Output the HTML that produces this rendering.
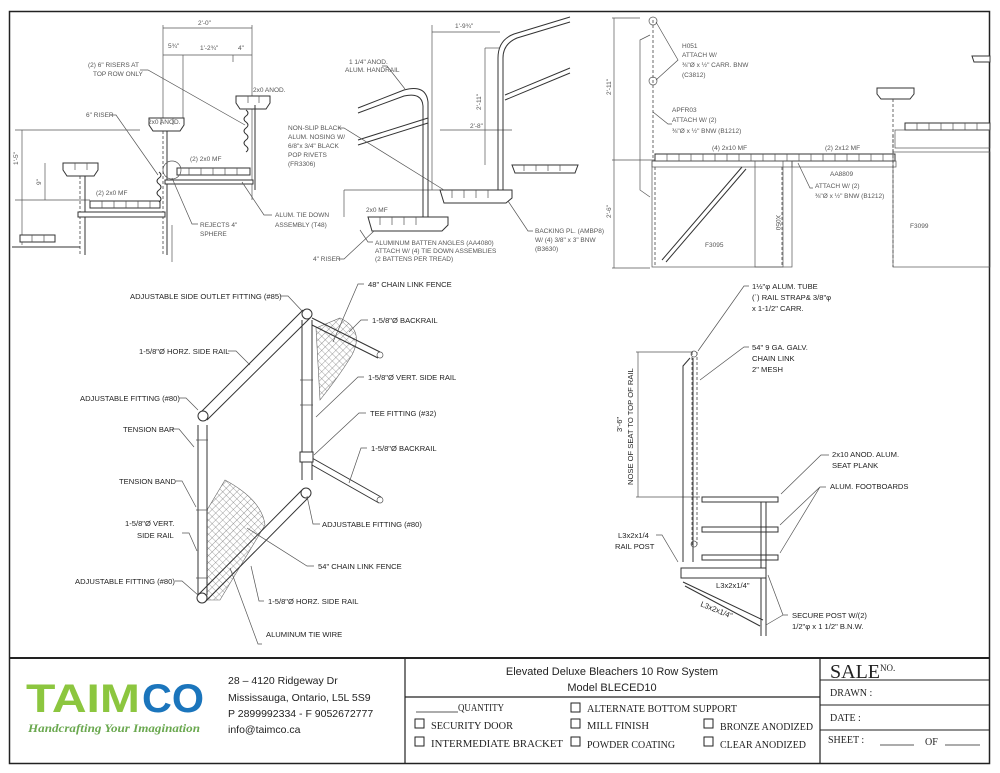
<!DOCTYPE html>
<html><head><meta charset="utf-8"><style>
html,body{margin:0;padding:0;background:#fff;}
svg{display:block;font-family:"Liberation Sans",sans-serif;}
.t{font-size:6.5px;fill:#555;}
.b{font-size:7.6px;fill:#222;}
.s{fill:none;stroke:#333;stroke-width:1;}
.l{fill:none;stroke:#555;stroke-width:0.7;}
.d{fill:none;stroke:#444;stroke-width:0.8;stroke-dasharray:3 2;}
.w{fill:#fff;stroke:#333;stroke-width:1;}
.m{font-family:"Liberation Serif",serif;font-size:10px;fill:#222;}
</style></head><body>
<svg width="1000" height="773" viewBox="0 0 1000 773" xmlns="http://www.w3.org/2000/svg">
<defs>
<pattern id="mesh" width="5" height="5" patternUnits="userSpaceOnUse" patternTransform="rotate(45)">
<path d="M0 0H5M0 0V5" stroke="#555" stroke-width="0.6"/>
</pattern>
</defs>
<!-- frame -->
<rect x="9.5" y="11.5" width="980" height="752" fill="none" stroke="#222" stroke-width="1.5"/>
<line x1="9" y1="658" x2="990" y2="658" stroke="#222" stroke-width="2"/>
<line x1="405" y1="658" x2="405" y2="763" stroke="#222" stroke-width="1.2"/>
<line x1="820" y1="658" x2="820" y2="763" stroke="#222" stroke-width="1.2"/>
<line x1="405" y1="697" x2="820" y2="697" stroke="#222" stroke-width="1.2"/>
<line x1="820" y1="680" x2="990" y2="680" stroke="#222" stroke-width="1"/>
<line x1="820" y1="705" x2="990" y2="705" stroke="#222" stroke-width="1"/>
<line x1="820" y1="730" x2="990" y2="730" stroke="#222" stroke-width="1"/>

<!-- ===== TOP LEFT DRAWING ===== -->
<g>
<line class="l" x1="163" y1="25" x2="163" y2="130"/>
<line class="l" x1="252" y1="25" x2="252" y2="200"/>
<line class="l" x1="163" y1="28" x2="252" y2="28"/>
<text class="t" x="198" y="25">2'-0"</text>
<line class="l" x1="163" y1="55" x2="252" y2="55"/>
<line class="l" x1="183" y1="55" x2="183" y2="125"/>
<line class="l" x1="233" y1="55" x2="233" y2="62"/>
<text class="t" x="200" y="50">1'-2¾"</text><text class="t" x="238" y="50">4"</text>
<text class="t" x="168" y="48">5¾"</text>
<line class="l" x1="15" y1="130" x2="140" y2="130"/>
<line class="l" x1="15" y1="200" x2="90" y2="200"/>
<line class="l" x1="22" y1="130" x2="22" y2="245"/>
<line class="l" x1="45" y1="163" x2="45" y2="200"/>
<text class="t" x="18" y="165" transform="rotate(-90 18 165)">1'-5"</text>
<text class="t" x="41" y="185" transform="rotate(-90 41 185)">9"</text>
<path class="w" d="M63 163h35v7l-4 6h-27l-4-6z"/>
<line class="d" x1="80" y1="176" x2="80" y2="255"/>
<line class="s" x1="85" y1="176" x2="85" y2="255"/>
<path class="w" d="M149 118h35v7l-4 6h-27l-4-6z"/>
<line class="d" x1="163" y1="131" x2="163" y2="255"/>
<line class="s" x1="167" y1="131" x2="167" y2="255"/>
<path class="w" d="M236 96h34v7l-4 6h-26l-4-6z"/>
<line class="s" x1="255" y1="105" x2="255" y2="190"/>
<g class="w"><rect x="90" y="201" width="70" height="7"/><rect x="177" y="168" width="73" height="7"/><rect x="20" y="235" width="35" height="7"/></g>
<g class="l"><path d="M102 201v7M114 201v7M126 201v7M138 201v7M150 201v7M189 168v7M201 168v7M213 168v7M225 168v7M237 168v7M32 235v7M44 235v7M75 163v7M87 163v7M161 118v7M173 118v7M248 96v7M259 96v7"/></g>
<rect class="w" x="78" y="212" width="87" height="5"/>
<rect class="w" x="165" y="180" width="88" height="4"/>
<path class="s" d="M12 247h68"/>
<path class="s" d="M159 172q4 3 0 6q-4 3 0 6q4 3 0 6q-4 3 0 6q4 3 0 6 M246 110q4 3 0 6q-4 3 0 6q4 3 0 6q-4 3 0 6q4 3 0 6q-4 3 0 6q4 3 0 6"/>
<circle class="l" cx="172" cy="170" r="9"/>
<text class="t" x="88" y="67">(2) 6" RISERS AT</text><text class="t" x="93" y="76">TOP ROW ONLY</text>
<path class="l" d="M140 70h8l97 55"/>
<text class="t" x="86" y="117">6" RISER</text><path class="l" d="M110 115h6l42 60"/>
<text class="t" x="148" y="124">2x0 ANOD.</text>
<text class="t" x="253" y="92">2x0 ANOD.</text>
<text class="t" x="190" y="161">(2) 2x0 MF</text>
<text class="t" x="96" y="195">(2) 2x0 MF</text>
<text class="t" x="200" y="227">REJECTS 4"</text><text class="t" x="200" y="236">SPHERE</text>
<path class="l" d="M198 224h-6l-20-46"/>
<text class="t" x="275" y="217">ALUM. TIE DOWN</text><text class="t" x="275" y="227">ASSEMBLY (T48)</text>
<path class="l" d="M272 215h-8l-22-33"/>
<line class="l" x1="172" y1="225" x2="172" y2="262"/>
</g>

<!-- ===== TOP MIDDLE DRAWING ===== -->
<g>
<line class="l" x1="432" y1="25" x2="432" y2="190"/>
<line class="l" x1="432" y1="32" x2="500" y2="32"/><text class="t" x="455" y="28">1'-9¾"</text>
<line class="l" x1="485" y1="48" x2="485" y2="165"/><line class="l" x1="485" y1="48" x2="500" y2="48"/>
<text class="t" x="481" y="110" transform="rotate(-90 481 110)">2'-11"</text>
<line class="l" x1="440" y1="130" x2="512" y2="130"/><text class="t" x="470" y="128">2'-8"</text>
<line class="l" x1="344" y1="190" x2="440" y2="190"/><line class="l" x1="344" y1="190" x2="344" y2="217"/>
<path class="s" d="M358 108L404 90q22-6 24 12V217"/>
<path class="s" d="M358 113L404 96q18-4 19 10V217"/>
<path class="s" d="M358 140L428 118M358 145L428 123"/>
<path class="s" d="M503 190V58q0-14 14-20L570 22M498 190V58q0-18 16-24L570 17"/>
<path class="s" d="M505 95L570 68M505 100L570 73"/>
<path class="w" d="M368 217h80v8l-6 6h-70z"/>
<path class="w" d="M440 190h72v8l-6 5h-62z"/>
<path class="w" d="M512 165h66l-3 8h-60z"/>
<g class="l"><path d="M380 217v8M392 217v8M404 217v8M416 217v8M452 190v8M464 190v8M476 190v8M488 190v8M524 165v6M536 165v6M548 165v6M560 165v6"/></g>
<text class="t" x="349" y="64">1 1/4" ANOD.</text><text class="t" x="345" y="72">ALUM. HANDRAIL</text>
<path class="l" d="M382 66h5l18 23"/>
<text class="t" x="288" y="130">NON-SLIP BLACK</text><text class="t" x="288" y="139">ALUM. NOSING W/</text>
<text class="t" x="288" y="148">6/8"x 3/4" BLACK</text><text class="t" x="288" y="157">POP RIVETS</text><text class="t" x="288" y="166">(FR3306)</text>
<path class="l" d="M338 128h6l100 62"/>
<text class="t" x="366" y="212">2x0 MF</text>
<text class="t" x="375" y="245">ALUMINUM BATTEN ANGLES (AA4080)</text>
<text class="t" x="375" y="253">ATTACH W/ (4) TIE DOWN ASSEMBLIES</text>
<text class="t" x="375" y="261">(2 BATTENS PER TREAD)</text>
<path class="l" d="M373 242h-5l-8-12"/>
<text class="t" x="313" y="261">4" RISER</text><path class="l" d="M339 259h5l30-28"/>
<text class="t" x="535" y="233">BACKING PL. (AMBP8)</text><text class="t" x="535" y="242">W/ (4) 3/8" x 3" BNW</text><text class="t" x="535" y="251">(B3630)</text>
<path class="l" d="M533 231h-5l-20-30"/>
</g>

<!-- ===== TOP RIGHT DRAWING ===== -->
<g>
<line class="l" x1="612" y1="18" x2="640" y2="18"/>
<line class="l" x1="614" y1="18" x2="614" y2="268"/>
<line class="l" x1="612" y1="160" x2="655" y2="160"/><line class="l" x1="612" y1="268" x2="650" y2="268"/>
<text class="t" x="611" y="95" transform="rotate(-90 611 95)">2'-11"</text>
<text class="t" x="611" y="218" transform="rotate(-90 611 218)">2'-6"</text>
<path class="l" d="M650 35L640 40V190L650 197"/>
<line class="d" x1="653" y1="20" x2="653" y2="160"/>
<circle class="l" cx="653" cy="21" r="4"/><circle class="l" cx="653" cy="81" r="4"/>
<path class="l" d="M656 22L678 60L656 80"/>
<text class="t" x="682" y="48">H051</text><text class="t" x="682" y="57">ATTACH W/</text><text class="t" x="682" y="67">⅜"Ø x ½" CARR. BNW</text><text class="t" x="682" y="77">(C3812)</text>
<path class="l" d="M653 112l15 12h4"/>
<text class="t" x="672" y="112">APFR03</text><text class="t" x="672" y="122">ATTACH W/ (2)</text><text class="t" x="672" y="133">⅜"Ø x ½" BNW (B1212)</text>
<rect class="w" x="655" y="154" width="240" height="7"/>
<g class="l"><path d="M667 154v7M679 154v7M691 154v7M703 154v7M715 154v7M727 154v7M739 154v7M751 154v7M763 154v7M775 154v7M787 154v7M799 154v7M811 154v7M823 154v7M835 154v7M847 154v7M859 154v7M871 154v7M883 154v7"/></g>
<text class="t" x="712" y="150">(4) 2x10 MF</text><text class="t" x="825" y="150">(2) 2x12 MF</text>
<rect class="l" x="652" y="161" width="140" height="6"/>
<rect class="l" x="792" y="161" width="104" height="6"/>
<rect class="l" x="652" y="161" width="140" height="106"/>
<line class="d" x1="655" y1="167" x2="655" y2="267"/>
<rect class="l" x="755" y="161" width="28" height="106"/>
<line class="d" x1="782" y1="167" x2="782" y2="267"/>
<path class="s" d="M662 260L742 167M666 262L746 169"/>
<text class="t" x="705" y="247">F3095</text>
<text class="t" x="776" y="215" transform="rotate(90 776 215)">X050</text>
<text class="t" x="830" y="176">AA8809</text>
<text class="t" x="815" y="188">ATTACH W/ (2)</text><text class="t" x="815" y="198">⅜"Ø x ½" BNW (B1212)</text>
<path class="l" d="M813 188h-3l-12-25"/>
<rect class="l" x="893" y="152" width="97" height="115"/>
<line class="d" x1="893" y1="135" x2="893" y2="267"/>
<text class="t" x="910" y="228">F3099</text>
<path class="w" d="M877 88h37v6l-4 5h-29l-4-5z"/>
<line class="d" x1="893" y1="99" x2="893" y2="152"/>
<rect class="w" x="905" y="123" width="85" height="7"/>
<rect class="l" x="895" y="130" width="95" height="18"/>
<g class="l"><path d="M917 123v7M929 123v7M941 123v7M953 123v7M965 123v7M977 123v7"/></g>
<path class="w" d="M972 56h18v6h-16z"/>
</g>

<!-- ===== BOTTOM LEFT: FENCE ===== -->
<g>
<path d="M316 328L340 318Q365 330 352 355Q340 375 320 400Z" fill="url(#mesh)" stroke="#666" stroke-width="0.6"/>
<path d="M207 510L225 480Q262 500 265 525Q250 550 220 600H207Z" fill="url(#mesh)" stroke="#666" stroke-width="0.6"/>
<path class="s" d="M302 320V480M312 320V480"/>
<path class="s" d="M198 425V595M207 425V595"/>
<path class="s" d="M201 412L303 310M207 420L310 318"/>
<path class="s" d="M199 594L302 490M205 602L308 498"/>
<path class="s" d="M312 318L380 352M312 325L378 358"/><circle class="l" cx="380" cy="355" r="3"/>
<path class="s" d="M312 458L381 497M312 465L379 503"/><circle class="l" cx="380" cy="500" r="3"/>
<circle class="w" cx="307" cy="314" r="5"/><circle class="w" cx="203" cy="416" r="5"/>
<circle class="w" cx="202" cy="598" r="5"/><circle class="w" cx="306" cy="493" r="5"/>
<rect class="w" x="300" y="452" width="13" height="10"/>
<g class="l"><path d="M300 380h13M300 405h13M196 510h12M196 578h12M196 440h12"/></g>
<text class="b" x="130" y="299">ADJUSTABLE SIDE OUTLET FITTING (#85)</text><path class="l" d="M280 296h8l15 16"/>
<text class="b" x="139" y="354">1-5/8"Ø HORZ. SIDE RAIL</text><path class="l" d="M228 351h8l14 14"/>
<text class="b" x="80" y="401">ADJUSTABLE FITTING (#80)</text><path class="l" d="M179 398h7l12 12"/>
<text class="b" x="123" y="432">TENSION BAR</text><path class="l" d="M172 429h7l15 18"/>
<text class="b" x="119" y="484">TENSION BAND</text><path class="l" d="M176 481h6l14 26"/>
<text class="b" x="125" y="526">1-5/8"Ø VERT.</text><text class="b" x="137" y="538">SIDE RAIL</text><path class="l" d="M182 533h7l8 18"/>
<text class="b" x="75" y="584">ADJUSTABLE FITTING (#80)</text><path class="l" d="M175 581h7l16 14"/>
<text class="b" x="368" y="287">48" CHAIN LINK FENCE</text><path class="l" d="M364 284h-6l-25 58"/>
<text class="b" x="372" y="323">1-5/8"Ø BACKRAIL</text><path class="l" d="M368 320h-7l-12 12"/>
<text class="b" x="368" y="380">1-5/8"Ø VERT. SIDE RAIL</text><path class="l" d="M364 377h-6l-42 40"/>
<text class="b" x="370" y="416">TEE FITTING (#32)</text><path class="l" d="M366 413h-7l-45 42"/>
<text class="b" x="371" y="451">1-5/8"Ø BACKRAIL</text><path class="l" d="M367 448h-6l-12 35"/>
<text class="b" x="322" y="527">ADJUSTABLE FITTING (#80)</text><path class="l" d="M320 524h-7l-6-28"/>
<text class="b" x="318" y="569">54" CHAIN LINK FENCE</text><path class="l" d="M314 566h-7l-60-38"/>
<text class="b" x="268" y="604">1-5/8"Ø HORZ. SIDE RAIL</text><path class="l" d="M264 601h-5l-8-35"/>
<text class="b" x="266" y="637">ALUMINUM TIE WIRE</text><path class="l" d="M262 644h-4l-28-76"/>
</g>

<!-- ===== BOTTOM RIGHT: RAIL SECTION ===== -->
<g>
<line class="l" x1="636" y1="352" x2="693" y2="352"/>
<line class="l" x1="636" y1="497" x2="700" y2="497"/>
<line class="l" x1="638" y1="352" x2="638" y2="497"/>
<text class="b" x="633" y="485" transform="rotate(-90 633 485)">NOSE OF SEAT TO TOP OF RAIL</text>
<text class="b" x="622" y="432" transform="rotate(-90 622 432)">3'-6"</text>
<path class="s" d="M690 358L683 366V562M693 358V562"/>
<line class="d" x1="692" y1="352" x2="692" y2="545"/>
<line class="d" x1="697" y1="352" x2="697" y2="545"/>
<circle class="l" cx="694" cy="354" r="3"/><circle class="l" cx="694" cy="544" r="3"/>
<rect class="w" x="702" y="497" width="76" height="5"/>
<rect class="w" x="702" y="527" width="76" height="5"/>
<rect class="w" x="702" y="555" width="76" height="5"/>
<line class="s" x1="761" y1="502" x2="761" y2="636"/><line class="s" x1="766" y1="502" x2="766" y2="636"/>
<rect class="w" x="681" y="568" width="85" height="10"/>
<path class="s" d="M683 582L763 620M685 586L760 626"/>
<text class="b" x="716" y="588">L3x2x1/4"</text>
<text class="b" x="700" y="606" transform="rotate(22 700 606)">L3x2x1/4"</text>
<text class="b" x="752" y="289">1½"φ ALUM. TUBE</text><text class="b" x="752" y="300">(´) RAIL STRAP&amp; 3/8"φ</text><text class="b" x="752" y="311">x 1-1/2" CARR.</text>
<path class="l" d="M749 286h-5l-46 65"/>
<text class="b" x="752" y="350">54" 9 GA. GALV.</text><text class="b" x="752" y="361">CHAIN LINK</text><text class="b" x="752" y="372">2" MESH</text>
<path class="l" d="M749 347h-5l-44 33"/>
<text class="b" x="832" y="457">2x10 ANOD. ALUM.</text><text class="b" x="832" y="468">SEAT PLANK</text>
<path class="l" d="M829 455h-8l-40 39"/>
<text class="b" x="830" y="489">ALUM. FOOTBOARDS</text>
<path class="l" d="M826 487h-6l-40 38M820 487l-40 66"/>
<text class="b" x="618" y="538">L3x2x1/4</text><text class="b" x="615" y="549">RAIL POST</text>
<path class="l" d="M656 535h6l16 27"/>
<text class="b" x="792" y="618">SECURE POST W/(2)</text><text class="b" x="792" y="629">1/2"φ x 1 1/2" B.N.W.</text>
<path class="l" d="M788 615h-5l-15-40M783 615l-17 10"/>
</g>

<!-- ===== TITLE BLOCK ===== -->
<g font-family="Liberation Sans, sans-serif" font-weight="bold" font-size="40">
<text x="26" y="712" fill="#8cc63f" textLength="114" lengthAdjust="spacingAndGlyphs">TAIM</text>
<text x="142" y="712" fill="#1b75bc" textLength="62" lengthAdjust="spacingAndGlyphs">CO</text>
</g>
<text x="28" y="732" font-family="Liberation Serif, serif" font-style="italic" font-weight="bold" font-size="12" fill="#6aa84f" textLength="172" lengthAdjust="spacingAndGlyphs">Handcrafting Your Imagination</text>
<g font-size="10.5" fill="#222">
<text x="228" y="684">28 – 4120 Ridgeway Dr</text>
<text x="228" y="701">Mississauga, Ontario, L5L 5S9</text>
<text x="228" y="717">P 2899992334 - F 9052672777</text>
<text x="228" y="733">info@taimco.ca</text>
</g>
<text x="612" y="675" font-size="11" fill="#222" text-anchor="middle">Elevated Deluxe Bleachers 10 Row System</text>
<text x="612" y="691" font-size="11" fill="#222" text-anchor="middle">Model BLECED10</text>
<g class="m">
<line x1="416" y1="712" x2="458" y2="712" stroke="#222" stroke-width="0.8"/>
<text x="458" y="711" textLength="46" lengthAdjust="spacingAndGlyphs">QUANTITY</text>
<rect x="571" y="703" width="9" height="9" fill="none" stroke="#222"/><text x="587" y="712" textLength="150" lengthAdjust="spacingAndGlyphs">ALTERNATE BOTTOM SUPPORT</text>
<rect x="415" y="719" width="9" height="9" fill="none" stroke="#222"/><text x="431" y="729" textLength="82" lengthAdjust="spacingAndGlyphs">SECURITY DOOR</text>
<rect x="571" y="719" width="9" height="9" fill="none" stroke="#222"/><text x="587" y="729" textLength="62" lengthAdjust="spacingAndGlyphs">MILL FINISH</text>
<rect x="704" y="719" width="9" height="9" fill="none" stroke="#222"/><text x="720" y="730" textLength="93" lengthAdjust="spacingAndGlyphs">BRONZE ANODIZED</text>
<rect x="415" y="737" width="9" height="9" fill="none" stroke="#222"/><text x="431" y="747" textLength="132" lengthAdjust="spacingAndGlyphs">INTERMEDIATE BRACKET</text>
<rect x="571" y="737" width="9" height="9" fill="none" stroke="#222"/><text x="587" y="748" textLength="88" lengthAdjust="spacingAndGlyphs">POWDER COATING</text>
<rect x="704" y="737" width="9" height="9" fill="none" stroke="#222"/><text x="720" y="748" textLength="86" lengthAdjust="spacingAndGlyphs">CLEAR ANODIZED</text>
</g>
<text x="830" y="678" font-family="Liberation Serif, serif" font-size="20" fill="#222">SALE</text>
<text x="880" y="671" font-family="Liberation Serif, serif" font-size="9" fill="#222">NO.</text>
<g class="m">
<text x="830" y="696">DRAWN :</text>
<text x="830" y="721">DATE :</text>
<text x="828" y="743">SHEET :</text>
<line x1="880" y1="745" x2="914" y2="745" stroke="#222" stroke-width="0.8"/>
<text x="925" y="745">OF</text>
<line x1="945" y1="745" x2="980" y2="745" stroke="#222" stroke-width="0.8"/>
</g>
</svg>
</body></html>
